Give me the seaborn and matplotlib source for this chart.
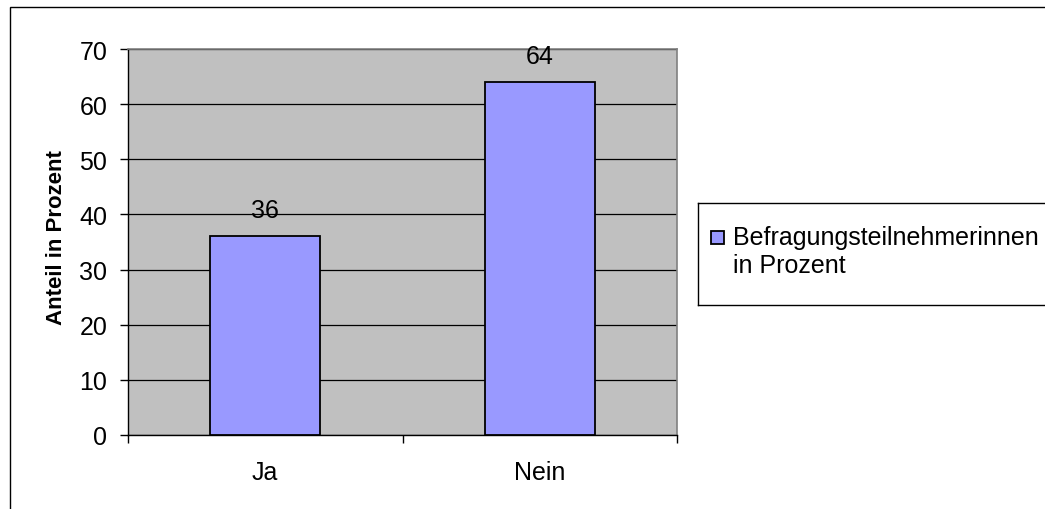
import matplotlib
matplotlib.use("Agg")
import matplotlib.pyplot as plt
import seaborn as sns
import pandas as pd
from matplotlib.patches import Rectangle

categories = ["Ja", "Nein"]
values = [36, 64]
series_name = "Befragungsteilnehmerinnen\nin Prozent"
y_ticks = [0, 10, 20, 30, 40, 50, 60, 70]

sns.set_theme(style="white")
plt.rcParams["font.family"] = ["Liberation Sans", "DejaVu Sans"]

df = pd.DataFrame({"Antwort": categories, "Anteil": values})

fig = plt.figure(figsize=(10.45, 5.1), dpi=100)
W, H = 1045, 510
ax = fig.add_axes([128 / W, 1 - 436 / H, (677 - 128) / W, (436 - 50) / H])

# outer chart frame
fig.patches.append(Rectangle((10 / W, -0.05), 1.1, 1 - 8 / H + 0.05,
                             transform=fig.transFigure, fill=False,
                             edgecolor="black", linewidth=1.0))

sns.barplot(data=df, x="Antwort", y="Anteil", ax=ax, color="#9999FF",
            width=0.4, edgecolor="black", linewidth=1.3, saturation=1,
            zorder=3)

ax.set_facecolor("#C0C0C0")
ax.set_ylim(0, 70)
ax.set_xlim(-0.5, 1.5)
ax.set_yticks(y_ticks)
ax.yaxis.grid(True, color="black", linewidth=0.9, zorder=0)
ax.set_axisbelow(True)

for s in ["top", "right"]:
    ax.spines[s].set_color("#808080")
    ax.spines[s].set_linewidth(1.2)
for s in ["left", "bottom"]:
    ax.spines[s].set_color("black")
    ax.spines[s].set_linewidth(1.0)

ax.tick_params(axis="y", which="both", left=True, length=6, width=1,
               color="black", labelsize=18, pad=9, labelcolor="black")
# category ticks at the boundaries between groups
ax.set_xticks([-0.5, 0.5, 1.5], minor=False)
ax.set_xticklabels([])
ax.set_xticks([0, 1], minor=True)
ax.set_xticklabels(categories, minor=True)
ax.tick_params(axis="x", which="major", bottom=True, length=6, width=1,
               color="black")
ax.tick_params(axis="x", which="minor", bottom=False, labelsize=18,
               pad=14, labelcolor="black")

ax.set_xlabel("")
ax.set_ylabel("Anteil in Prozent", fontsize=16, fontweight="bold",
              color="black")
ax.yaxis.set_label_coords(-0.111, 0.513)

for i, v in enumerate(values):
    ax.text(i, v + 4.8, f"{v}", ha="center", va="center", fontsize=18,
            color="black")

# legend box
leg_ax = fig.add_axes([698 / W, 1 - 306 / H, 1.0, (306 - 204) / H])
leg_ax.set_xlim(0, 1)
leg_ax.set_ylim(0, 1)
leg_ax.set_xticks([])
leg_ax.set_yticks([])
for s in leg_ax.spines.values():
    s.set_color("black")
    s.set_linewidth(1.0)
leg_ax.set_facecolor("white")
fig.patches.append(Rectangle((711 / W, 1 - 245 / H), 13 / W, 13 / H,
                             transform=fig.transFigure,
                             facecolor="#9999FF", edgecolor="black",
                             linewidth=1.3))
fig.text(733 / W, 1 - 252 / H, series_name, ha="left", va="center",
         fontsize=18, color="black", linespacing=1.22)

fig.savefig("out.png", dpi=100, facecolor="white")
